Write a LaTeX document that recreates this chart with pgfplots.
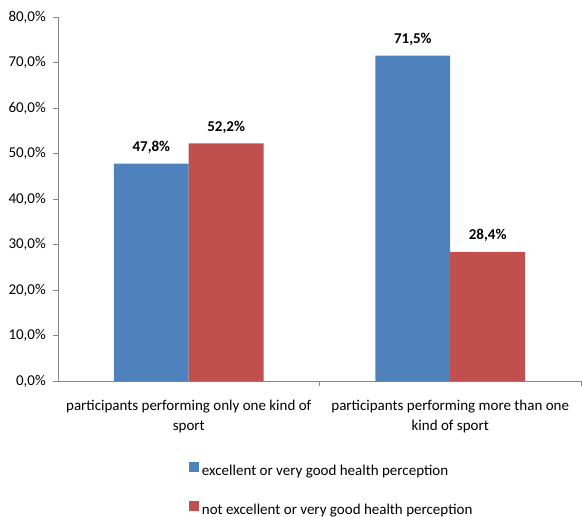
\documentclass[border=0pt]{standalone}
\usepackage{pgfplots}
\pgfplotsset{compat=1.18}
\usepackage{fontspec}
\setmainfont{Carlito}
\definecolor{cblue}{HTML}{4F81BD}
\definecolor{cred}{HTML}{C0504D}
\definecolor{axgray}{HTML}{868686}
\begin{document}
\fontsize{15}{20}\selectfont
\begin{tikzpicture}
\useasboundingbox (-58pt,-136pt) rectangle (524pt,381pt);
\begin{axis}[
  scale only axis, width=523pt, height=364pt,
  at={(0,0)}, anchor=south west,
  ybar=0pt, bar width=0.286,
  xmin=-0.5, xmax=1.5, ymin=0, ymax=80,
  axis x line*=bottom, axis y line*=left,
  axis line style={axgray},
  ytick={0,10,...,80},
  yticklabel={\pgfmathprintnumber[fixed,fixed zerofill,precision=1,use comma]{\tick}\%},
  /pgf/number format/assume math mode=true,
  yticklabel style={font=\fontsize{15}{18}\selectfont, xshift=-2pt},
  tick style={axgray},
  major tick length=5pt,
  tick align=outside,
  xtick={0.5,1.5},
  xticklabels={},
  extra x ticks={0,1},
  extra x tick labels={{participants performing only one kind of\\sport},{participants performing more than one\\kind of sport}},
  extra x tick style={major tick length=0pt, xticklabel style={align=center, font=\fontsize{15}{20}\selectfont, yshift=-14pt}},
  nodes near coords={\textbf{\pgfmathprintnumber[fixed,fixed zerofill,precision=1,use comma]{\pgfplotspointmeta}\%}},
  every node near coord/.append style={yshift=5pt, text=black, font=\fontsize{15}{18}\selectfont},
  legend style={at={(0.25,-0.222)}, anchor=north west, draw=none, fill=none,
    inner sep=0pt, row sep=24pt, font=\fontsize{15}{18}\selectfont,
    nodes={inner sep=0pt, inner xsep=3pt}},
  legend cell align=left,
  legend image code/.code={\fill[#1] (0pt,-1pt) rectangle (10pt,9pt);},
]
\addplot[fill=cblue, draw=none] coordinates {(0,47.8) (1,71.5)};
\addplot[fill=cred, draw=none] coordinates {(0,52.2) (1,28.4)};
\legend{excellent or very good health perception, not excellent or very good health perception}
\end{axis}
\end{tikzpicture}
\end{document}
